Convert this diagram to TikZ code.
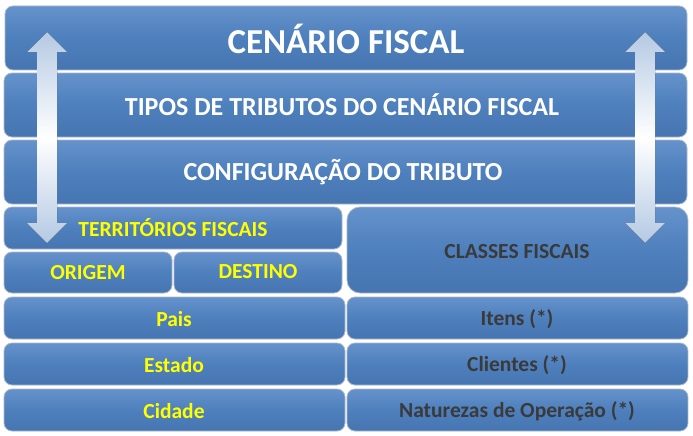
\documentclass[tikz,border=0pt]{standalone}
\usepackage{fontspec}
\setmainfont{Carlito}
\definecolor{boxblue}{HTML}{4E80BD}
\definecolor{boxtop}{HTML}{6592CB}
\definecolor{boxbot}{HTML}{4675B1}
\definecolor{edge}{HTML}{A9B9CC}
\definecolor{ytext}{HTML}{FFFF00}
\definecolor{gtext}{HTML}{3A3A3A}
\definecolor{arrblue}{HTML}{B4C9E3}
\tikzset{
  blk/.style={rounded corners=8pt, draw=edge, line width=0.8pt,
    top color=boxtop, bottom color=boxbot, middle color=boxblue},
  wtxt/.style={text=white, font=\bfseries},
  ytxt/.style={text=ytext, font=\bfseries\fontsize{21.5}{24}\selectfont},
  gtxt/.style={text=gtext, font=\bfseries\fontsize{21.5}{24}\selectfont},
  darr/.style={top color=arrblue, bottom color=arrblue, middle color=white, draw=none}
}
\begin{document}
\begin{tikzpicture}[x=1pt,y=-1pt]
\useasboundingbox (0,0) rectangle (693,436);
% top blocks
\draw[blk] (5,6) rectangle (687,70);
\draw[blk] (4,73) rectangle (687,137);
\draw[blk] (4,140) rectangle (687,204);
% left column
\draw[blk] (4,207) rectangle (342,249);
\draw[blk] (4,252) rectangle (172,293);
\draw[blk] (174,252) rectangle (342,293);
\draw[blk] (4,297) rectangle (345,339);
\draw[blk] (4,343) rectangle (345,385);
\draw[blk] (4,389) rectangle (345,431);
% right column
\draw[blk, rounded corners=13pt] (347,207) rectangle (688,293);
\draw[blk] (347,297) rectangle (688,339);
\draw[blk] (347,343) rectangle (688,385);
\draw[blk] (347,389) rectangle (688,431);
% texts
\node[wtxt, font=\bfseries\fontsize{35}{38}\selectfont] (cen) at (346,39) {CENÁRIO FISCAL};
\node[wtxt, font=\bfseries\fontsize{26}{28}\selectfont] (tip) at (342,105) {TIPOS DE TRIBUTOS DO CENÁRIO FISCAL};
\node[wtxt, font=\bfseries\fontsize{26}{28}\selectfont] (cfg) at (343,172) {CONFIGURAÇÃO DO TRIBUTO};
\node[ytxt] (ter) at (173,228) {TERRITÓRIOS FISCAIS};
\node[ytxt] (ori) at (88,273) {ORIGEM};
\node[ytxt] (des) at (258,272) {DESTINO};
\node[ytxt] (pai) at (174,319) {Pais};
\node[ytxt] (est) at (174,365) {Estado};
\node[ytxt] (cid) at (174,411) {Cidade};
\node[gtxt] (cla) at (517,252) {CLASSES FISCAIS};
\node[gtxt] (ite) at (517,319) {Itens (*)};
\node[gtxt] (cli) at (517,365) {Clientes (*)};
\node[gtxt] (nat) at (517,411) {Naturezas de Operação (*)};
% double arrows
\foreach \cx in {47,645} {
  \fill[darr] (\cx,32) -- (\cx+20,52) -- (\cx+10,52) -- (\cx+10,223) -- (\cx+20,223)
    -- (\cx,243) -- (\cx-20,223) -- (\cx-10,223) -- (\cx-10,52) -- (\cx-20,52) -- cycle;
}
\end{tikzpicture}
\end{document}
